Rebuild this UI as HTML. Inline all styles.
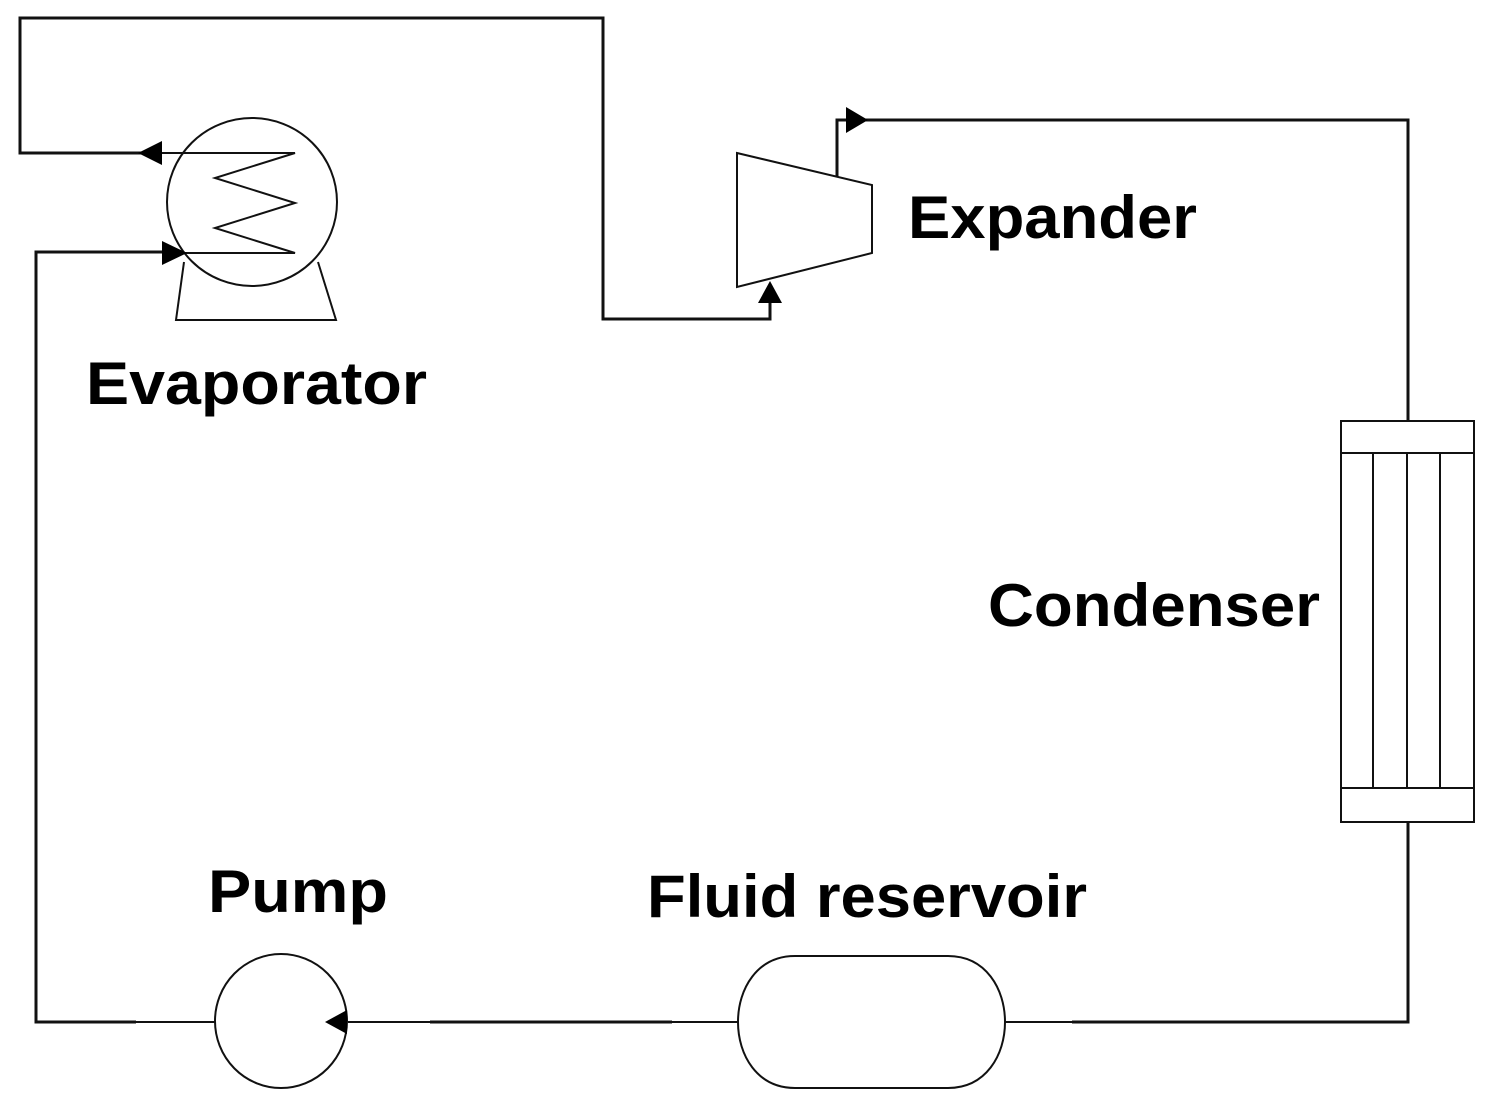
<!DOCTYPE html>
<html><head><meta charset="utf-8"><style>
html,body{margin:0;padding:0;background:#fff;}
svg{display:block;}
text{font-family:"Liberation Sans","DejaVu Sans",sans-serif;font-weight:bold;font-size:60px;fill:#000;}
</style></head><body>
<svg width="1492" height="1104" viewBox="0 0 1492 1104" xmlns="http://www.w3.org/2000/svg">
<g fill="none" stroke="#111" stroke-width="3" stroke-linejoin="miter">
<polyline points="160,153 20,153 20,18 603,18 603,319 770,319 770,300"/>
<polyline points="165,252 36,252 36,1022 136,1022"/>
<polyline points="837,176 837,120 1408,120 1408,420"/>
<polyline points="1408,822 1408,1022 1072,1022"/>
<line x1="136" y1="1022" x2="215" y2="1022" stroke-width="2"/>
<line x1="348" y1="1022" x2="430" y2="1022" stroke-width="2"/>
<line x1="430" y1="1022" x2="672" y2="1022"/>
<line x1="672" y1="1022" x2="738" y2="1022" stroke-width="2"/>
<line x1="1005" y1="1022" x2="1072" y2="1022" stroke-width="2"/>
</g>
<g fill="none" stroke="#111" stroke-width="2">
<polyline points="184,262 176,320 336,320 318,262"/>
<ellipse cx="252" cy="202" rx="85" ry="84" fill="#fff"/>
<polyline points="160,153 295,153 215,178 295,203 215,228 295,253 165,253"/>
<polygon points="737,153 872,185 872,253 737,287"/>
<rect x="1341" y="421" width="133" height="401"/>
<line x1="1341" y1="453" x2="1474" y2="453"/>
<line x1="1341" y1="788" x2="1474" y2="788"/>
<line x1="1373" y1="453" x2="1373" y2="788"/>
<line x1="1407" y1="453" x2="1407" y2="788"/>
<line x1="1440" y1="453" x2="1440" y2="788"/>
<ellipse cx="281" cy="1021" rx="66" ry="67"/>
<path d="M795,956 L948,956 C1024,956 1024,1088 948,1088 L795,1088 C719,1088 719,956 795,956 Z"/>
</g>
<g fill="#000">
<polygon points="138,153 162,141 162,165"/>
<polygon points="187,253 162,241 162,265"/>
<polygon points="770,281 758,303 782,303"/>
<polygon points="868,120 846,107 846,133"/>
<polygon points="325,1022 347,1010 347,1034"/>
</g>
<text x="908" y="238" textLength="289" lengthAdjust="spacingAndGlyphs">Expander</text>
<text x="86" y="404" textLength="341" lengthAdjust="spacingAndGlyphs">Evaporator</text>
<text x="988" y="626" textLength="332" lengthAdjust="spacingAndGlyphs">Condenser</text>
<text x="208" y="912" textLength="180" lengthAdjust="spacingAndGlyphs">Pump</text>
<text x="647" y="917" textLength="440" lengthAdjust="spacingAndGlyphs">Fluid reservoir</text>
</svg>
</body></html>
